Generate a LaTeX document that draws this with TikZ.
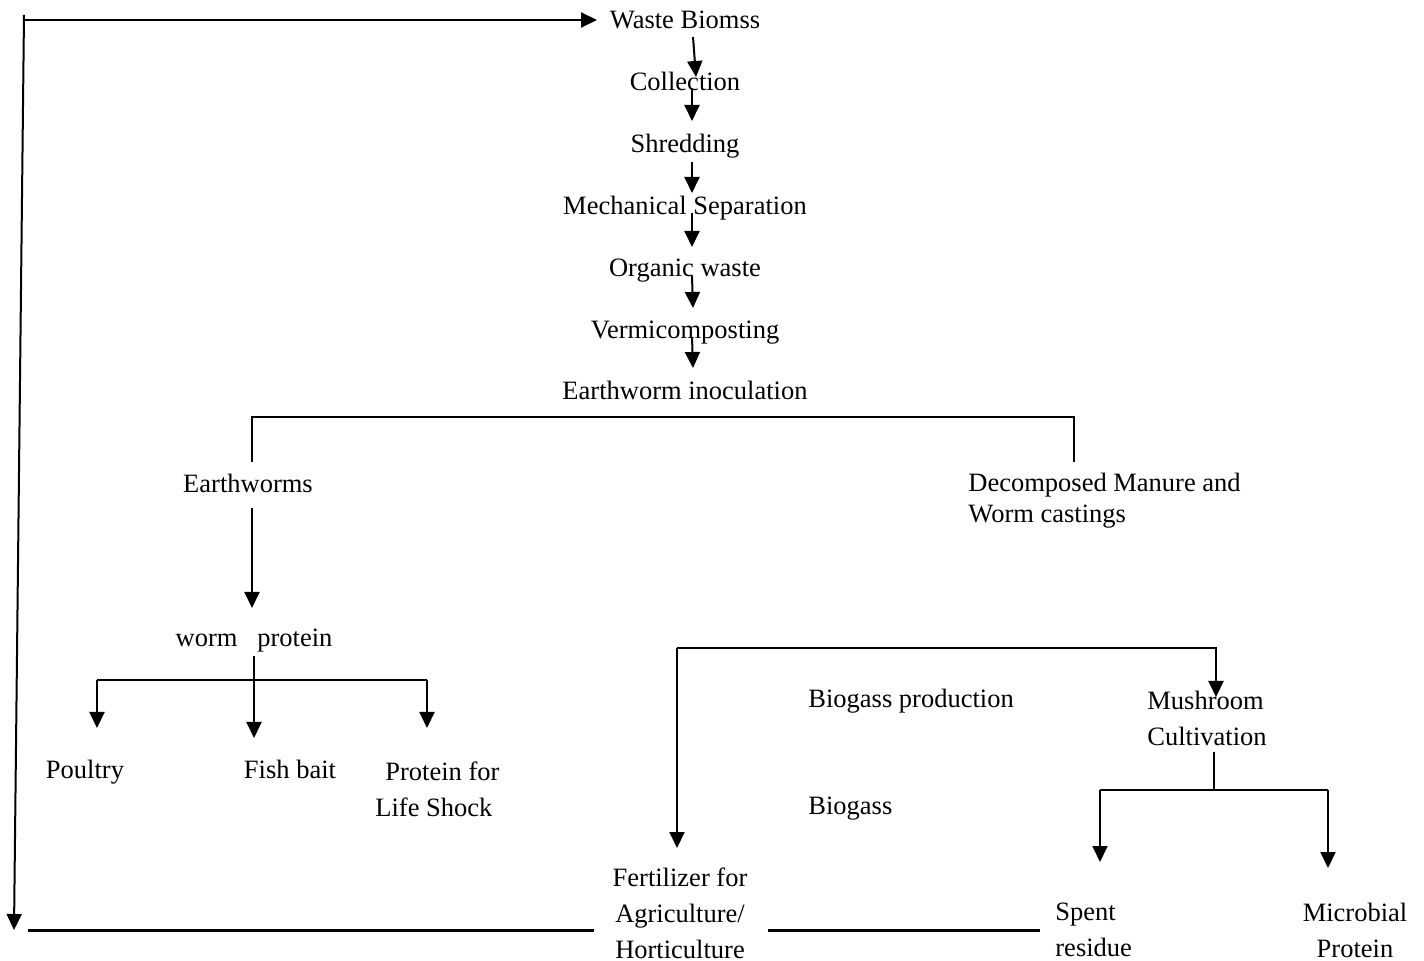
\documentclass[tikz,border=0pt]{standalone}
\usepackage{fontspec}
\setmainfont{Liberation Serif}
\usetikzlibrary{arrows.meta}
\begin{document}
\begin{tikzpicture}[x=0.5pt,y=-0.5pt,
  lbl/.style={inner sep=0pt, font=\fontsize{13.25}{18}\selectfont},
  one/.style={lbl, text height=9.2pt, text depth=2.6pt, yshift=-1pt},
  arr/.style={-{Triangle[length=8pt,width=7.5pt]}, line width=1pt},
  ln/.style={line width=1pt},
  thick line/.style={line width=1.5pt}]
\useasboundingbox (0,0) rectangle (1424,961);
% text nodes
\node[one] (waste) at (685,20) {Waste Biomss};
\node[one] (coll) at (685,82) {Collection};
\node[one] (shred) at (685,144) {Shredding};
\node[one] (mech) at (685,206) {Mechanical Separation};
\node[one] (org) at (685,268) {Organic waste};
\node[one] (verm) at (685,330) {Vermicomposting};
\node[one] (inoc) at (685,391) {Earthworm inoculation};
\node[one] (ew) at (248,484) {Earthworms};
\node[lbl, anchor=west, align=left, font=\fontsize{13.25}{15.5}\selectfont] (dec) at (968,501) {Decomposed Manure and\\Worm castings};
\node[one] (wp) at (254,638) {worm\ \ \ protein};
\node[one] (poul) at (85,770) {Poultry};
\node[one] (fish) at (290,770) {Fish bait};
\node[lbl, anchor=west, align=left] (pls) at (375,789) {\hspace{5pt}Protein for\\Life Shock};
\node[one, anchor=west] (bgp) at (808,699) {Biogass production};
\node[lbl, anchor=west, align=left] (mush) at (1147,718) {Mushroom\\Cultivation};
\node[one, anchor=west] (bg) at (808,806) {Biogass};
\node[lbl, align=center] (fert) at (680,913) {Fertilizer for\\Agriculture/\\Horticulture};
\node[lbl, anchor=west, align=left] (spent) at (1055,930) {Spent\\residue};
\node[lbl, align=center] (micro) at (1355,930) {Microbial\\Protein};
% coordinates
\coordinate (lt) at (24,15);
\coordinate (lh) at (24,20);
\coordinate (lb) at (14,930);
\coordinate (wt) at (597,20);
\coordinate (a1s) at (693,37);  \coordinate (a1e) at (696,77);
\coordinate (a2s) at (692,88);  \coordinate (a2e) at (692,121);
\coordinate (a3s) at (692,162); \coordinate (a3e) at (692,193);
\coordinate (a4s) at (692,213); \coordinate (a4e) at (692,247);
\coordinate (a5s) at (692,276); \coordinate (a5e) at (693,308);
\coordinate (a6s) at (692,337); \coordinate (a6e) at (693,368);
\coordinate (bl1) at (252,462); \coordinate (bl2) at (252,417);
\coordinate (br2) at (1074,417); \coordinate (br1) at (1074,462);
\coordinate (ews) at (252,508); \coordinate (ewe) at (252,608);
\coordinate (wps) at (254,656); \coordinate (wpe) at (254,738);
\coordinate (hl) at (97,680); \coordinate (hr) at (427,680);
\coordinate (pt) at (97,728); \coordinate (lst) at (427,728);
\coordinate (fa) at (677,648); \coordinate (fe) at (677,848);
\coordinate (fm) at (1216,648); \coordinate (fme) at (1216,697);
\coordinate (ms) at (1214,752); \coordinate (mj) at (1214,790);
\coordinate (ml) at (1100,790); \coordinate (mr) at (1328,790);
\coordinate (spe) at (1100,862); \coordinate (mpe) at (1328,868);
\coordinate (b1) at (28,930); \coordinate (b2) at (594,930);
\coordinate (b3) at (768,930); \coordinate (b4) at (1040,930);
% connectors
\draw[arr] (lh) -- (wt);
\draw[arr] (lt) -- (lb);
\draw[arr] (a1s) -- (a1e);
\draw[arr] (a2s) -- (a2e);
\draw[arr] (a3s) -- (a3e);
\draw[arr] (a4s) -- (a4e);
\draw[arr] (a5s) -- (a5e);
\draw[arr] (a6s) -- (a6e);
\draw[ln] (bl1) -- (bl2) -- (br2) -- (br1);
\draw[arr] (ews) -- (ewe);
\draw[arr] (wps) -- (wpe);
\draw[ln] (hl) -- (hr);
\draw[arr] (hl) -- (pt);
\draw[arr] (hr) -- (lst);
\draw[arr] (fa) -- (fe);
\draw[arr] (fa) -- (fm) -- (fme);
\draw[ln] (ms) -- (mj);
\draw[ln] (ml) -- (mr);
\draw[arr] (ml) -- (spe);
\draw[arr] (mr) -- (mpe);
\draw[thick line] (b1) -- (b2);
\draw[thick line] (b3) -- (b4);
\end{tikzpicture}
\end{document}
